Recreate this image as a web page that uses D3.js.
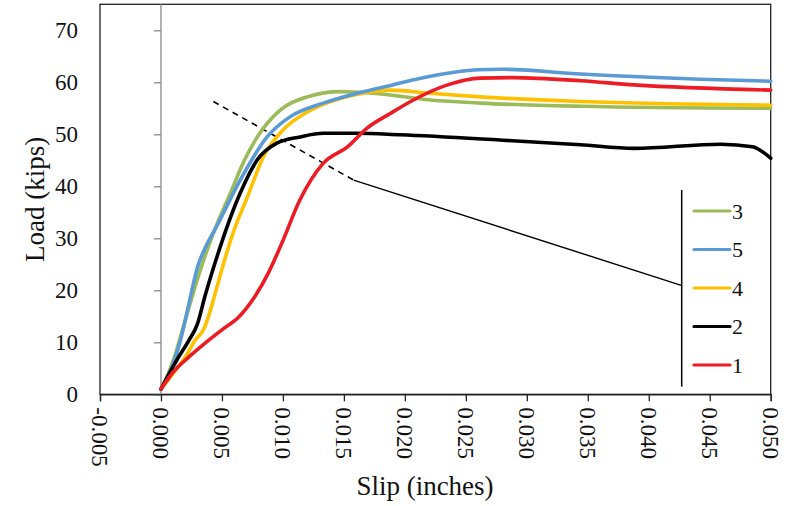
<!DOCTYPE html>
<html>
<head>
<meta charset="utf-8">
<script src="https://cdn.jsdelivr.net/npm/d3@7"></script>
<style>
  html, body { margin: 0; padding: 0; background: #fff; }
  svg { display: block; font-family: "Liberation Serif", "Times New Roman", serif; }
</style>
</head>
<body>
<svg id="chart" width="793" height="506"></svg>
<script>
// ---- Data ----
const xTicks = [-0.005, 0.000, 0.005, 0.010, 0.015, 0.020, 0.025, 0.030, 0.035, 0.040, 0.045, 0.050];
const xTickLabels = ["-0.005", "0.000", "0.005", "0.010", "0.015", "0.020", "0.025", "0.030", "0.035", "0.040", "0.045", "0.050"];
const yTicks = [0, 10, 20, 30, 40, 50, 60, 70];
const seriesNames = ["3", "5", "4", "2", "1"];
const seriesColors = ["#9BBB59", "#5B9BD5", "#FFC000", "#000000", "#ED1C24"];

const slip3 = [0, 0.0006, 0.0012, 0.002, 0.0028, 0.0036, 0.0043, 0.0057, 0.0068, 0.0079, 0.0098, 0.012, 0.0147, 0.0174, 0.0221, 0.0262, 0.0344, 0.05];
const load3 = [1, 4, 7.9, 14.3, 20.7, 26.5, 31, 38.7, 44.8, 49.5, 54.7, 57.2, 58.2, 57.9, 56.6, 56, 55.4, 55.0];

const slip5 = [0, 0.0008, 0.0016, 0.0023, 0.003, 0.0037, 0.0045, 0.0065, 0.0087, 0.0106, 0.0133, 0.0161, 0.019, 0.022, 0.026, 0.028, 0.0344, 0.0442, 0.05];
const load5 = [1, 4.6, 10.4, 17.5, 24.5, 28.5, 32, 41.2, 49.5, 53.4, 56, 57.9, 59.5, 61.1, 62.4, 62.5, 61.6, 60.6, 60.2];

const slip4 = [0, 0.001, 0.002, 0.0028, 0.0035, 0.0039, 0.0046, 0.0053, 0.006, 0.0071, 0.0084, 0.01, 0.012, 0.0147, 0.0174, 0.0188, 0.0221, 0.0262, 0.0344, 0.05];
const load4 = [1, 4, 7.2, 10.4, 12.5, 15, 20.7, 26.5, 31.6, 38, 45.7, 50.8, 54.3, 56.9, 58.2, 58.5, 57.9, 57.2, 56.3, 55.6];

const slip2 = [0, 0.0013, 0.0023, 0.003, 0.0036, 0.0046, 0.0065, 0.0079, 0.0095, 0.0114, 0.0133, 0.0161, 0.0196, 0.0278, 0.0344, 0.0388, 0.0459, 0.0485, 0.05];
const load2 = [1, 6.6, 10.4, 13.6, 18.8, 26.5, 38.7, 45.1, 48.3, 49.5, 50.2, 50.2, 49.9, 48.9, 48.0, 47.3, 48.1, 47.6, 45.4];

const slip1 = [0, 0.0009, 0.0023, 0.0036, 0.005, 0.0064, 0.0077, 0.0088, 0.0099, 0.0114, 0.0133, 0.0153, 0.0169, 0.0188, 0.0207, 0.0235, 0.0262, 0.0289, 0.0344, 0.0388, 0.05];
const load1 = [1, 4, 7.2, 9.8, 12.4, 14.9, 18.8, 23.3, 29, 37.4, 44.4, 47.6, 51.2, 54, 56.6, 59.5, 60.8, 60.9, 60.3, 59.5, 58.5];

// annotation: dashed guide and solid leader line to the legend
const dashSlip = [0.0043, 0.0158];
const dashLoad = [56.3, 41.2];
const leaderSlip = [0.0158, 0.04273];
const leaderLoad = [41.2, 20.9];

// ---- Layout ----
const svg = d3.select("#chart");
const x = d3.scaleLinear().domain([-0.005, 0.050]).range([100, 770.7]);
const y = d3.scaleLinear().domain([0, 75]).range([394.3, 4.3]);

// Plot frame
svg.append("rect")
  .attr("x", x(-0.005)).attr("y", y(75))
  .attr("width", x(0.05) - x(-0.005)).attr("height", y(0) - y(75))
  .attr("fill", "none").attr("stroke", "#222").attr("stroke-width", 1.3);

// Vertical axis at x = 0 (gray)
const yAxis = svg.append("g")
  .attr("transform", `translate(${x(0)},0)`)
  .call(d3.axisLeft(y).tickValues(yTicks).tickSize(7).tickFormat(""));
yAxis.select(".domain").attr("stroke", "#8a8a8a").attr("stroke-width", 1.3)
  .attr("d", `M0,${y(75)}V${y(0)}`);
yAxis.selectAll(".tick line").attr("stroke", "#8a8a8a").attr("stroke-width", 1.3);

// Y tick labels at low position
svg.append("g").selectAll("text").data(yTicks).join("text")
  .attr("x", 78).attr("y", d => y(d))
  .attr("dy", "0.35em")
  .attr("text-anchor", "end")
  .attr("font-size", 23).attr("fill", "#111")
  .text(d => d);

// X axis
const xAxis = svg.append("g")
  .attr("transform", `translate(0,${y(0)})`)
  .call(d3.axisBottom(x).tickValues(xTicks).tickSize(7).tickFormat(""));
xAxis.select(".domain").attr("stroke", "#222").attr("stroke-width", 1.3);
xAxis.selectAll(".tick line").attr("stroke", "#222").attr("stroke-width", 1.3);

svg.append("g").selectAll("text").data(xTicks).join("text")
  .attr("transform", d => `translate(${x(d)},${y(0) + 13}) rotate(90)`)
  .attr("dy", "0.34em")
  .attr("text-anchor", "start")
  .attr("font-size", 23).attr("fill", "#111")
  .text((d, i) => xTickLabels[i]);

// Axis titles
svg.append("text")
  .attr("x", 425).attr("y", 495)
  .attr("text-anchor", "middle")
  .attr("font-size", 27).attr("fill", "#111")
  .text("Slip (inches)");
svg.append("text")
  .attr("transform", `translate(44,${(y(0) + y(75)) / 2}) rotate(-90)`)
  .attr("text-anchor", "middle")
  .attr("font-size", 27).attr("fill", "#111")
  .text("Load (kips)");

// Annotation lines
const line = d3.line().x(d => x(d[0])).y(d => y(d[1]));
svg.append("path")
  .attr("d", line(d3.zip(dashSlip, dashLoad)))
  .attr("fill", "none").attr("stroke", "#000").attr("stroke-width", 1.6)
  .attr("stroke-dasharray", "6,5");
svg.append("path")
  .attr("d", line(d3.zip(leaderSlip, leaderLoad)))
  .attr("fill", "none").attr("stroke", "#000").attr("stroke-width", 1.4);

// Series
const series = [
  { name: "3", xs: slip3, ys: load3 },
  { name: "5", xs: slip5, ys: load5 },
  { name: "4", xs: slip4, ys: load4 },
  { name: "2", xs: slip2, ys: load2 },
  { name: "1", xs: slip1, ys: load1 }
];
const smooth = d3.line().x(d => x(d[0])).y(d => y(d[1])).curve(d3.curveMonotoneX);
const drawOrder = ["3", "4", "5", "2", "1"];
drawOrder.forEach(n => {
  const s = series.find(t => t.name === n);
  const ci = seriesNames.indexOf(n);
  svg.append("path")
    .attr("d", smooth(d3.zip(s.xs, s.ys)))
    .attr("fill", "none")
    .attr("stroke", seriesColors[ci])
    .attr("stroke-width", 3.6)
    .attr("stroke-linejoin", "round")
    .attr("stroke-linecap", "round");
});

// Legend
const lg = svg.append("g");
lg.append("line")
  .attr("x1", 681.7).attr("x2", 681.7).attr("y1", 190).attr("y2", 386.7)
  .attr("stroke", "#000").attr("stroke-width", 1.5);
const rows = lg.selectAll("g.row").data(seriesNames).join("g")
  .attr("transform", (d, i) => `translate(0,${211 + i * 38.5})`);
rows.append("line")
  .attr("x1", 694).attr("x2", 730)
  .attr("stroke", (d, i) => seriesColors[i])
  .attr("stroke-width", 3.2).attr("stroke-linecap", "round");
rows.append("text")
  .attr("x", 732).attr("dy", "0.35em")
  .attr("font-size", 22).attr("fill", "#111")
  .text(d => d);
</script>
</body>
</html>
